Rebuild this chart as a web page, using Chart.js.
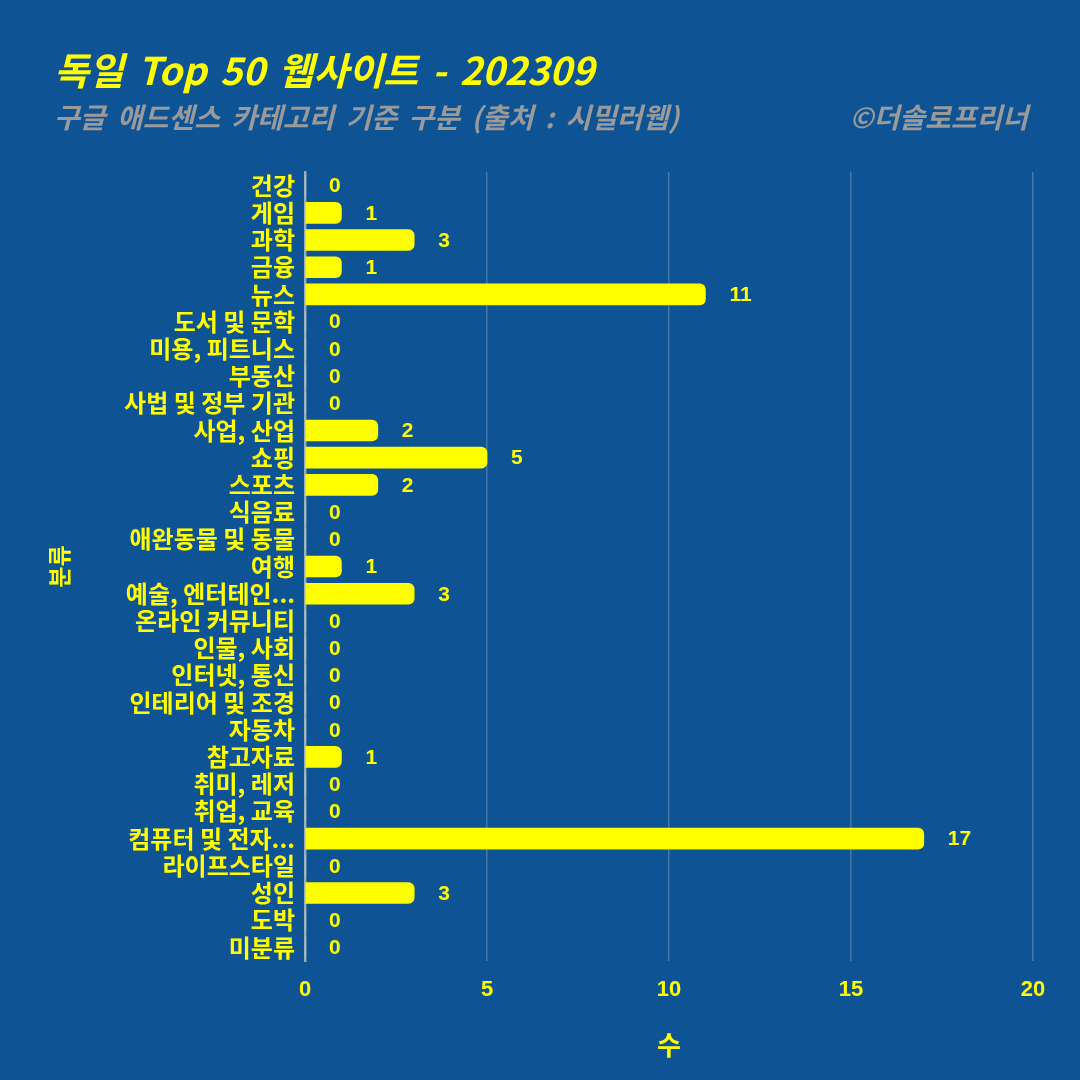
<!DOCTYPE html>
<html><head><meta charset="utf-8">
<script src="https://cdn.jsdelivr.net/npm/chart.js@4/dist/chart.umd.min.js"></script>
<style>
html,body{margin:0;padding:0;background:#0e5394;}
#wrap{position:relative;width:1080px;height:1080px;background:#0e5394;overflow:hidden;}
#c{position:absolute;left:0;top:0;}
.t{position:absolute;font-family:"Noto Sans CJK KR","Noto Sans",sans-serif;white-space:nowrap;line-height:1;}
#title{left:54px;top:50px;font-size:38px;font-weight:700;font-style:italic;color:#ffff00;word-spacing:5px;}
#sub{left:54px;top:102px;font-size:28px;font-weight:700;font-style:italic;color:#9a9a9a;word-spacing:5px;}
#copy{right:52px;top:102px;font-size:28px;font-weight:700;font-style:italic;color:#9a9a9a;}
</style></head>
<body><div id="wrap">
<canvas id="c" width="1080" height="1080"></canvas>
<div class="t" id="title">독일 Top 50 웹사이트 - 202309</div>
<div class="t" id="sub">구글 애드센스 카테고리 기준 구분 (출처 : 시밀러웹)</div>
<div class="t" id="copy">©더솔로프리너</div>
</div>
<script>
const categories = ["건강","게임","과학","금융","뉴스","도서 및 문학","미용, 피트니스","부동산","사법 및 정부 기관","사업, 산업","쇼핑","스포츠","식음료","애완동물 및 동물","여행","예술, 엔터테인...","온라인 커뮤니티","인물, 사회","인터넷, 통신","인테리어 및 조경","자동차","참고자료","취미, 레저","취업, 교육","컴퓨터 및 전자...","라이프스타일","성인","도박","미분류"];
const counts = [0,1,3,1,11,0,0,0,0,2,5,2,0,0,1,3,0,0,0,0,0,1,0,0,17,0,3,0,0];
const xTicks = [0,5,10,15,20];
const yTitle = "분류";
const xTitle = "수";

const FONT = '"Noto Sans CJK KR","Noto Sans",sans-serif';
const NUMFONT = '"Liberation Sans","Noto Sans CJK KR",sans-serif';
const labelPlugin = {
  id:'vlabels',
  afterDatasetsDraw(chart){
    const ctx = chart.ctx;
    const meta = chart.getDatasetMeta(0);
    ctx.save();
    ctx.fillStyle = '#ffff00';
    ctx.font = 'bold 21px ' + NUMFONT;
    ctx.textAlign = 'left';
    ctx.textBaseline = 'middle';
    meta.data.forEach((bar,i)=>{
      ctx.fillText(String(counts[i]), bar.x + 24, bar.y + 1);
    });
    ctx.restore();
  }
};

new Chart(document.getElementById('c'), {
  type:'bar',
  data:{labels:categories, datasets:[{data:counts, backgroundColor:'#ffff00', borderWidth:0, barThickness:21, borderRadius:{topRight:6,bottomRight:6,topLeft:0,bottomLeft:0}, borderSkipped:'left'}]},
  options:{
    indexAxis:'y', responsive:false, animation:false, devicePixelRatio:1,
    layout:{padding:{top:172,left:40,right:47,bottom:0}},
    plugins:{legend:{display:false}, tooltip:{enabled:false}},
    scales:{
      x:{min:0,max:20, afterBuildTicks(s){s.ticks = xTicks.map(v=>({value:v}));},
        grid:{color:'rgba(255,255,255,0.22)', lineWidth:1.5, drawTicks:false},
        border:{display:false},
        ticks:{color:'#ffff00', font:{family:NUMFONT, size:22, weight:'bold'}, padding:16},
        title:{display:true, text:xTitle, color:'#ffff00', font:{family:FONT, size:26, weight:'bold'}, padding:{top:10,bottom:19}},
        afterFit(s){s.height = 1080-961;}
      },
      y:{
        grid:{display:false, drawTicks:false},
        border:{display:true, color:'rgba(185,195,195,0.75)', width:2.5},
        ticks:{color:'#ffff00', font:{family:FONT, size:24, weight:'bold'}, padding:10, autoSkip:false},
        title:{display:true, text:yTitle, color:'#ffff00', font:{family:FONT, size:23, weight:'bold'}, padding:5},
        afterFit(s){s.width = 265;}
      }
    }
  },
  plugins:[labelPlugin]
});
</script>
</body></html>
